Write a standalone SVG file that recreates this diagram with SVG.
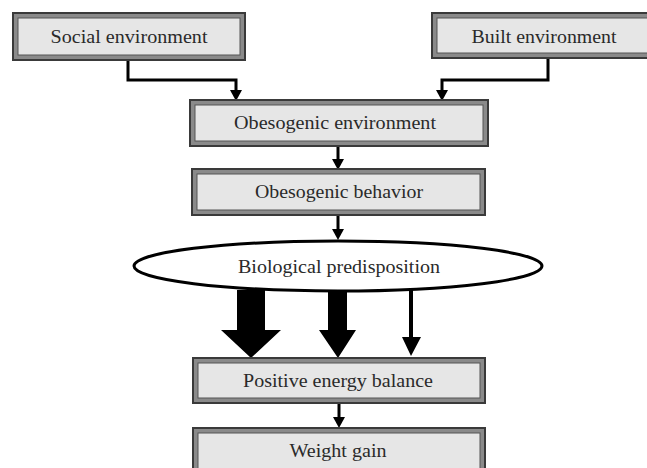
<svg xmlns="http://www.w3.org/2000/svg" width="647" height="468" viewBox="0 0 647 468">
<defs>
<style>
.box-outer{fill:#8a8a8a;stroke:#3a3a3a;stroke-width:2}
.box-inner{fill:#e6e6e6;stroke:#555;stroke-width:1}
.lbl{font-family:"Liberation Serif","Times New Roman",serif;font-size:18px;fill:#2a2a2a;text-anchor:middle}
.conn{fill:none;stroke:#000;stroke-width:3}
.head{fill:#000}
</style>
</defs>
<rect width="647" height="468" fill="#fff"/>
<g id="connectors">
<path class="conn" d="M128,60 V80 H236 V92"/>
<polygon class="head" points="230,90 242,90 236,101"/>
<path class="conn" d="M548,58 V80 H442 V92"/>
<polygon class="head" points="436,90 448,90 442,101"/>
<path class="conn" d="M338,146 V161"/>
<polygon class="head" points="332,159 344,159 338,170"/>
<path class="conn" d="M338,215 V231"/>
<polygon class="head" points="332,229 344,229 338,240"/>
<polygon class="head" points="237,290 265,290 265,330 281,330 251,358 221,330 237,330"/>
<polygon class="head" points="328,290 347,290 347,330 356,330 338,358 319,330 328,330"/>
<polygon class="head" points="409,290 413,290 413,337 421,337 411,356 402,337 409,337"/>
<path class="conn" d="M339,403 V419"/>
<polygon class="head" points="333,417 345,417 339,428"/>
</g>
<g id="social">
<rect class="box-outer" x="13" y="13" width="232" height="47"/>
<rect class="box-inner" x="18" y="18" width="222" height="37"/>
<text class="lbl" x="129" y="43" textLength="157" lengthAdjust="spacingAndGlyphs">Social environment</text>
</g>
<g id="built">
<rect class="box-outer" x="432" y="13" width="220" height="45"/>
<rect class="box-inner" x="437" y="18" width="215" height="35"/>
<text class="lbl" x="544" y="43" textLength="145" lengthAdjust="spacingAndGlyphs">Built environment</text>
</g>
<g id="obesogenic-environment">
<rect class="box-outer" x="190" y="100" width="298" height="46"/>
<rect class="box-inner" x="195" y="105" width="288" height="36"/>
<text class="lbl" x="335" y="129" textLength="202" lengthAdjust="spacingAndGlyphs">Obesogenic environment</text>
</g>
<g id="obesogenic-behavior">
<rect class="box-outer" x="192" y="169" width="293" height="46"/>
<rect class="box-inner" x="197" y="174" width="283" height="36"/>
<text class="lbl" x="339" y="198" textLength="168" lengthAdjust="spacingAndGlyphs">Obesogenic behavior</text>
</g>
<g id="biological-predisposition">
<ellipse cx="338" cy="266" rx="204" ry="25" fill="#fff" stroke="#000" stroke-width="3"/>
<text class="lbl" x="339" y="273" textLength="202" lengthAdjust="spacingAndGlyphs">Biological predisposition</text>
</g>
<g id="positive-energy-balance">
<rect class="box-outer" x="193" y="358" width="292" height="45"/>
<rect class="box-inner" x="198" y="363" width="282" height="35"/>
<text class="lbl" x="338" y="387" textLength="190" lengthAdjust="spacingAndGlyphs">Positive energy balance</text>
</g>
<g id="weight-gain">
<rect class="box-outer" x="193" y="428" width="292" height="45"/>
<rect class="box-inner" x="198" y="433" width="282" height="40"/>
<text class="lbl" x="338" y="457" textLength="97" lengthAdjust="spacingAndGlyphs">Weight gain</text>
</g>
</svg>
